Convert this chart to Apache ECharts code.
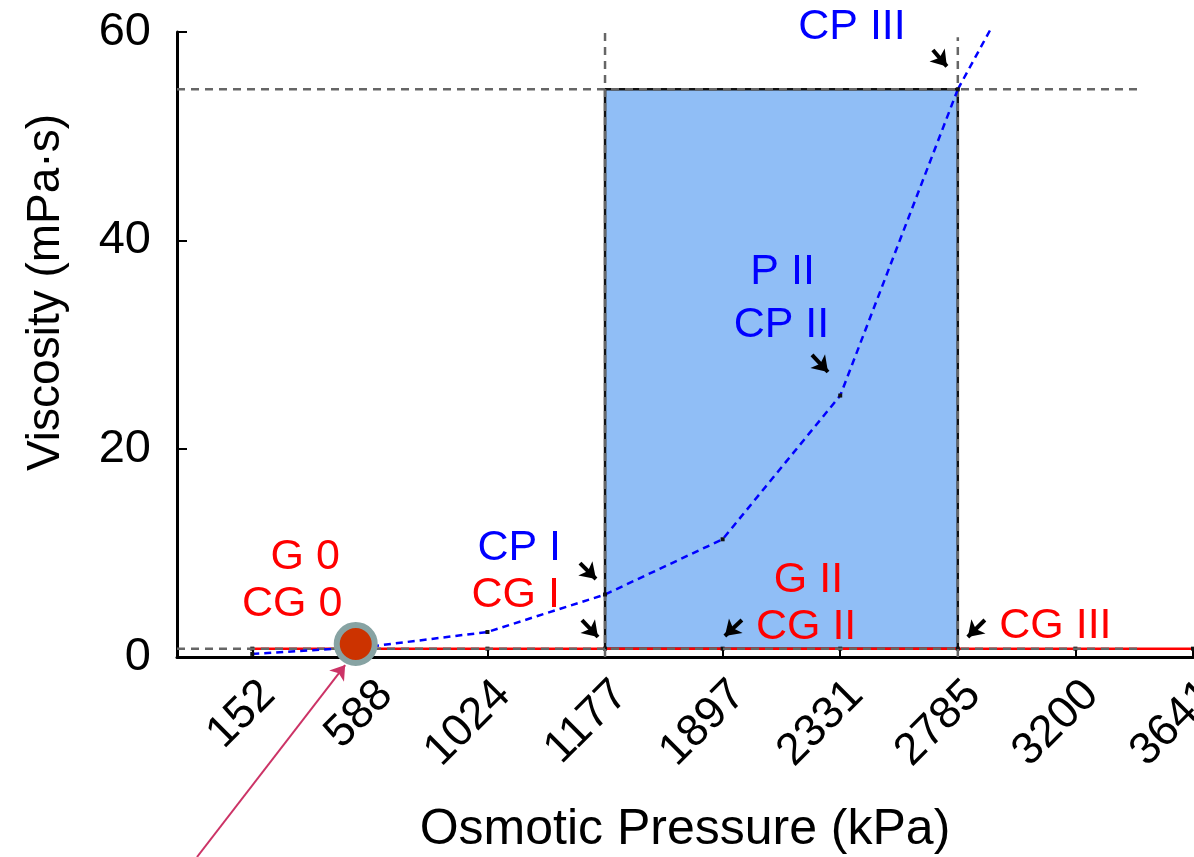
<!DOCTYPE html>
<html>
<head>
<meta charset="utf-8">
<script src="https://cdn.jsdelivr.net/npm/echarts@6/dist/echarts.min.js"></script>
<style>html,body{margin:0;padding:0;background:#fff;}#c{width:1194px;height:857px;}</style>
</head>
<body>
<div id="c"></div>
<script>
// ---- data ----
const xLabels = ['152', '588', '1024', '1177', '1897', '2331', '2785', '3200', '3641'];
const xIdx = [0, 1, 2, 3, 4, 5, 6, 7, 8];
const cpViscosity = [0.3, 1.0, 2.4, 6.0, 11.3, 25.1, 54.5];   // blue dashed (CP)
const cpExtension = [6.29, 60.5];                             // blue line continues past 2785
const cgViscosity = [0.8, 0.8, 0.8, 0.8, 0.8, 0.8, 0.8, 0.8, 0.8]; // red (CG)
const refHigh = 54.5;     // grey dashed upper level
const refLow = 0.8;       // grey dashed lower level
const refXStart = -0.64, refXEnd = 7.55;
const boxX = [3, 6];      // 1177 .. 2785
const boxY = [0.8, 54.5];
const highlightPoint = [0.88, 1.25];
const pointerArrow = [[-0.47, -19.2], [0.79, -0.77]];

const labelsRed = [
  { t: 'G 0', p: [0.45, 9.6] }, { t: 'CG 0', p: [0.34, 5.1] },
  { t: 'CG I', p: [2.24, 5.95] },
  { t: 'G II', p: [4.73, 7.4] }, { t: 'CG II', p: [4.71, 2.9] },
  { t: 'CG III', p: [6.83, 3.0] }
];
const labelsBlue = [
  { t: 'CP I', p: [2.27, 10.46] },
  { t: 'P II', p: [4.51, 36.9] }, { t: 'CP II', p: [4.50, 31.9] },
  { t: 'CP III', p: [5.10, 60.5] }
];
const smallArrows = [
  [[2.787, 9.02], [2.923, 7.49]],
  [[2.804, 3.55], [2.940, 1.92]],
  [[4.760, 29.0], [4.896, 27.36]],
  [[4.164, 3.55], [4.019, 2.02]],
  [[6.230, 3.55], [6.085, 1.92]],
  [[5.788, 58.27], [5.907, 56.7]]
];

const FONT = 'Liberation Sans, Arial, sans-serif';
const chart = echarts.init(document.getElementById('c'));

const cpData = cpViscosity.map((v, i) => [xIdx[i], v]);
const cgData = cgViscosity.map((v, i) => [xIdx[i], v]);
const greyStyle = { color: '#666', width: 2.5, type: [8, 6] };

function textSeries(list, color) {
  return {
    type: 'scatter', silent: true, clip: false, z: 20,
    symbolSize: 1, itemStyle: { color: 'rgba(0,0,0,0)', opacity: 1 },
    data: list.map(d => ({ value: d.p, name: d.t })),
    label: { show: true, position: 'inside', formatter: '{b}', color: color, fontSize: 43, fontFamily: FONT, opacity: 1 }
  };
}

chart.setOption({
  animation: false,
  backgroundColor: '#fff',
  grid: { left: 177, right: 1, top: 32, bottom: 200, outerBoundsMode: 'none', containLabel: false },
  xAxis: {
    type: 'value', min: refXStart, max: 8,
    name: 'Osmotic Pressure (kPa)', nameLocation: 'middle', nameGap: 148,
    nameTextStyle: { fontSize: 50, color: '#000', fontFamily: FONT },
    axisLine: { show: true, onZero: false, lineStyle: { color: '#000', width: 3 } },
    axisTick: { show: true, inside: true, length: 7, lineStyle: { color: '#000', width: 2 }, customValues: xIdx },
    axisLabel: {
      customValues: xIdx, rotate: 45, margin: 15, fontSize: 45, color: '#000', fontFamily: FONT,
      verticalAlign: 'top',
      formatter: v => xLabels[Math.round(v)] || ''
    },
    splitLine: { show: false }
  },
  yAxis: {
    type: 'value', min: 0, max: 60, interval: 20,
    name: 'Viscosity (mPa·s)', nameLocation: 'middle', nameGap: 108, nameRotate: 90,
    nameTextStyle: { fontSize: 46, color: '#000', fontFamily: FONT, padding: [0, 0, 0, 104] },
    axisLine: { show: true, onZero: false, lineStyle: { color: '#000', width: 3 } },
    axisTick: { show: true, inside: true, length: 10, lineStyle: { color: '#000', width: 2 } },
    axisLabel: { margin: 26, fontSize: 47, color: '#000', fontFamily: FONT },
    splitLine: { show: false }
  },
  series: [
    { // box
      type: 'line', data: [], silent: true, z: 1,
      markArea: {
        silent: true,
        itemStyle: { color: '#90bef6', borderColor: '#111', borderWidth: 2.5, opacity: 1 },
        data: [[{ coord: [boxX[0], boxY[0]] }, { coord: [boxX[1], boxY[1]] }]]
      }
    },
    { // red CG line
      type: 'line', data: cgData, z: 3, symbol: 'rect', symbolSize: 4, showSymbol: true,
      itemStyle: { color: '#111' }, lineStyle: { color: '#ff0000', width: 2.5 }
    },
    { type: 'line', data: [[refXStart, refLow], [refXEnd, refLow]], symbol: 'none', z: 4, lineStyle: greyStyle },
    { type: 'line', data: [[refXStart, refHigh], [refXEnd, refHigh]], symbol: 'none', z: 4, lineStyle: greyStyle },
    { type: 'line', data: [[boxX[0], 0], [boxX[0], 60]], symbol: 'none', z: 4, lineStyle: greyStyle },
    { type: 'line', data: [[boxX[1], 0], [boxX[1], 59.5]], symbol: 'none', z: 4, lineStyle: greyStyle },
    { // blue CP line
      type: 'line', data: cpData, z: 5, symbol: 'rect', symbolSize: 4, showSymbol: true,
      itemStyle: { color: '#111' }, lineStyle: { color: '#0000ff', width: 2.5, type: [7, 5] }
    },
    {
      type: 'line', data: [cpData[cpData.length - 1], cpExtension], z: 5, symbol: 'none', clip: false,
      lineStyle: { color: '#0000ff', width: 2.5, type: [7, 5] }
    },
    textSeries(labelsRed, '#ff0000'),
    textSeries(labelsBlue, '#0000ff'),
    {
      type: 'lines', coordinateSystem: 'cartesian2d', clip: false, z: 15, silent: true,
      symbol: ['none', 'arrow'], symbolSize: 15,
      lineStyle: { color: '#000', width: 4, opacity: 1 },
      data: smallArrows.map(a => ({ coords: a }))
    },
    {
      type: 'lines', coordinateSystem: 'cartesian2d', clip: false, z: 15, silent: true,
      symbol: ['none', 'arrow'], symbolSize: 14,
      lineStyle: { color: '#cc3366', width: 2, opacity: 1 },
      data: [{ coords: pointerArrow }]
    },
    {
      type: 'scatter', z: 12, clip: false, data: [highlightPoint], symbol: 'circle', symbolSize: 38,
      itemStyle: { color: '#cc3300', borderColor: '#87a3a3', borderWidth: 6, opacity: 1 }
    }
  ]
});
</script>
</body>
</html>
